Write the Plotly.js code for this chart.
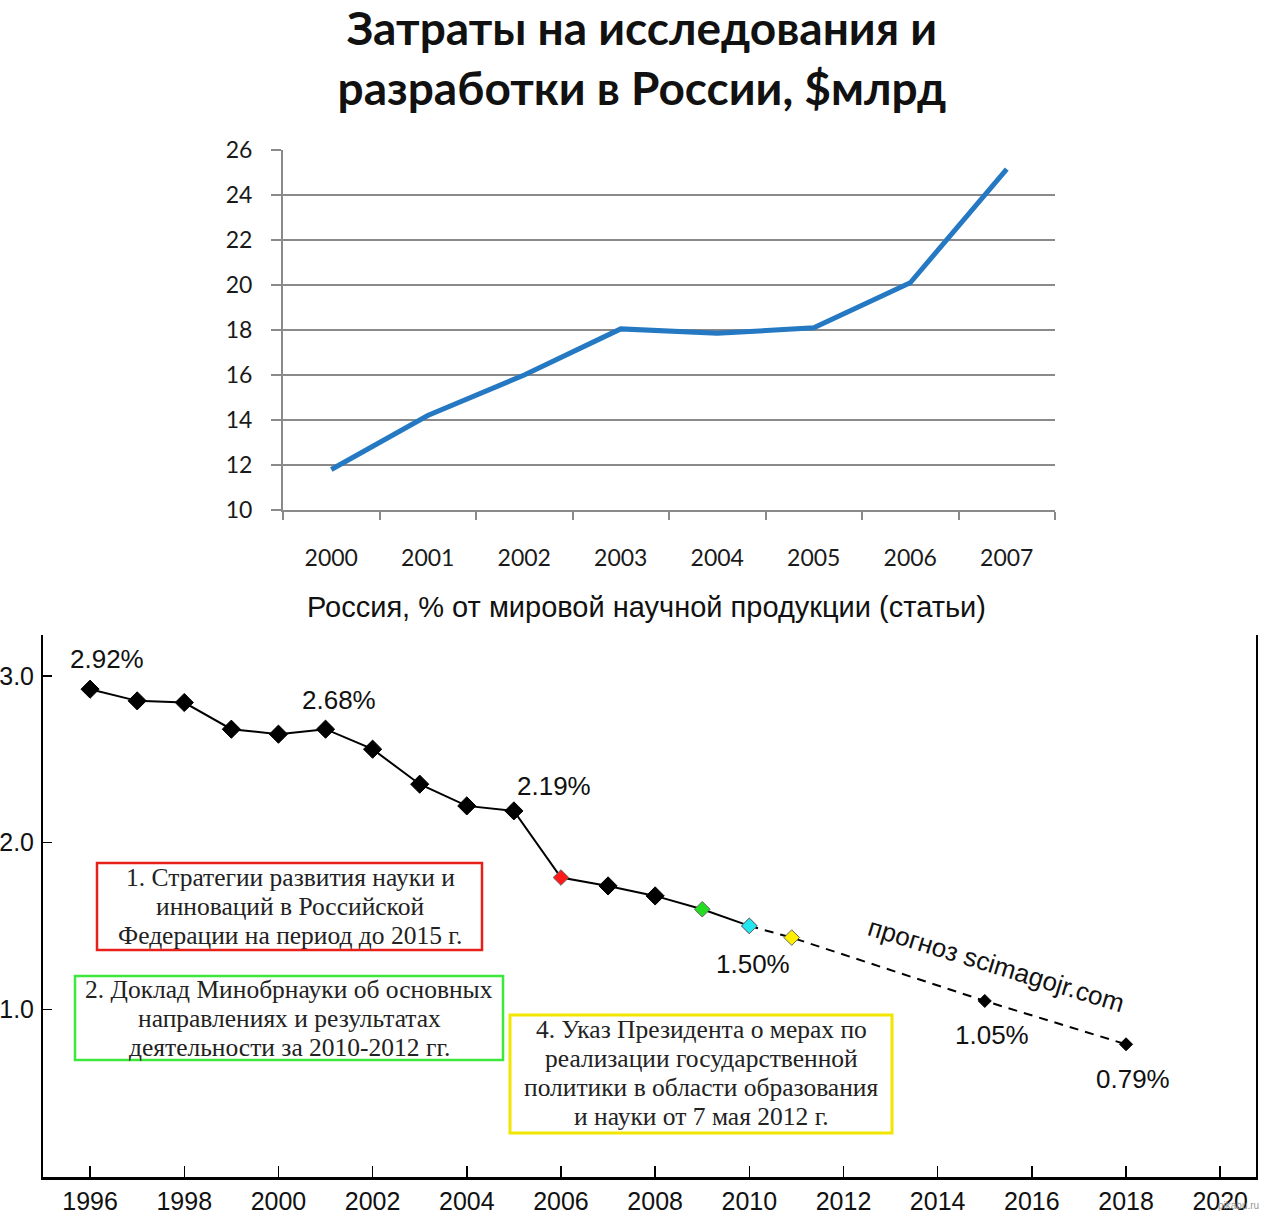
<!DOCTYPE html>
<html>
<head>
<meta charset="utf-8">
<script src="https://cdn.plot.ly/plotly-3.0.1.min.js"></script>
<style>html,body{margin:0;padding:0;background:#fff;}#chart{width:1261px;height:1215px;}</style>
</head>
<body>
<div id="chart"></div>
<script>
// ---------- data: R&D spending ----------
const expYears = ['2000', '2001', '2002', '2003', '2004', '2005', '2006', '2007'];
const expValues = [11.8, 14.2, 16.0, 18.05, 17.85, 18.1, 20.1, 25.15];

// ---------- data: share of world scientific output ----------
const shareYears = [1996, 1997, 1998, 1999, 2000, 2001, 2002, 2003, 2004, 2005, 2006, 2007, 2008, 2009, 2010];
const shareValues = [2.92, 2.85, 2.84, 2.68, 2.65, 2.68, 2.56, 2.35, 2.22, 2.19, 1.79, 1.74, 1.68, 1.60, 1.50];
const forecastYears = [2010, 2010.9, 2015, 2018];
const forecastValues = [1.50, 1.43, 1.05, 0.79];
const labelYears = [1996, 2001, 2005, 2010, 2015, 2018];
const labelValues = [2.92, 2.68, 2.19, 1.50, 1.05, 0.79];
const yTickVals = [1, 2, 3];

const titleText = 'Затраты на исследования и<br>разработки в России, $млрд';
const subTitle = 'Россия, % от мировой научной продукции (статьи)';
const forecastText = 'прогноз scimagojr.com';
const box1Lines = ['1. Стратегии развития науки и', 'инноваций в Российской', 'Федерации на период до 2015 г.'];
const box2Lines = ['2. Доклад Минобрнауки об основных', 'направлениях и результатах', 'деятельности за 2010-2012 гг.'];
const box4Lines = ['4. Указ Президента о мерах по', 'реализации государственной', 'политики в области образования', 'и науки от 7 мая 2012 г.'];

// ---------- styles ----------
const W = 1261, H = 1215;
const px = x => x / W;
const py = y => 1 - y / H;
const markerColorsMain = ['#000','#000','#000','#000','#000','#000','#000','#000','#000','#000','#ff1a1a','#000','#000','#22dd22','#22e6f0'];
const markerSizesMain = [14,14,14,14,14,14,14,14,14,14,12,14,14,12,12];
const markerLineMain = ['#000','#000','#000','#000','#000','#000','#000','#000','#000','#000','#666','#000','#000','#666','#666'];
const markerColorsFc = ['#22e6f0', '#ffee00', '#000', '#000'];
const markerSizesFc = [12, 12, 10, 10];
const markerLineFc = ['#666', '#666', '#000', '#000'];
const labelShift = [[17, 30], [13, 29], [40, 25], [4, -38], [7, -34], [7, -35]];

const gridGray = '#8a8a8a';
const topFont = 'Lato, "Open Sans", sans-serif';
const arial = 'Arial, "Liberation Sans", sans-serif';
const serif = '"Times New Roman", "Liberation Serif", serif';

const traces = [
  {
    x: expYears, y: expValues, type: 'scatter', mode: 'lines',
    xaxis: 'x', yaxis: 'y',
    line: {color: '#2479c2', width: 5},
    showlegend: false
  },
  {
    x: forecastYears, y: forecastValues, type: 'scatter', mode: 'lines',
    xaxis: 'x2', yaxis: 'y2',
    line: {color: '#000', width: 2, dash: '9px,7px'},
    showlegend: false
  },
  {
    x: shareYears, y: shareValues, type: 'scatter', mode: 'lines',
    xaxis: 'x2', yaxis: 'y2',
    line: {color: '#000', width: 2},
    showlegend: false
  },
  {
    x: forecastYears, y: forecastValues, type: 'scatter', mode: 'markers',
    xaxis: 'x2', yaxis: 'y2',
    marker: {symbol: 'diamond', opacity: 1, size: markerSizesFc, color: markerColorsFc, line: {color: markerLineFc, width: 1}},
    showlegend: false
  },
  {
    x: shareYears, y: shareValues, type: 'scatter', mode: 'markers',
    xaxis: 'x2', yaxis: 'y2',
    marker: {symbol: 'diamond', opacity: 1, size: markerSizesMain, color: markerColorsMain, line: {color: markerLineMain, width: 1}},
    showlegend: false
  }
];

const annotations = [
  {
    xref: 'paper', yref: 'paper', x: px(646), y: py(607), text: subTitle, showarrow: false,
    xanchor: 'center', yanchor: 'middle', font: {family: arial, size: 29, color: '#111'}
  },
  {
    xref: 'paper', yref: 'paper', x: px(996), y: py(965), text: forecastText, showarrow: false,
    textangle: 17, xanchor: 'center', yanchor: 'middle', font: {family: arial, size: 26, color: '#111'}
  },
  {
    xref: 'paper', yref: 'paper', x: px(1261), y: py(1205), text: 'pikabu.ru', showarrow: false,
    xanchor: 'right', yanchor: 'middle', font: {family: arial, size: 10, color: '#999'}
  }
];
function addBox(lines, cx, yFirst) {
  lines.forEach((t, i) => {
    annotations.push({
      xref: 'paper', yref: 'paper', x: px(cx), y: py(yFirst + i * 29), text: t, showarrow: false,
      xanchor: 'center', yanchor: 'middle', font: {family: serif, size: 25.5, color: '#222'}
    });
  });
}
addBox(box1Lines, 290, 877);
addBox(box2Lines, 289, 989);
addBox(box4Lines, 701, 1029);

labelYears.forEach((yr, i) => {
  annotations.push({
    xref: 'x2', yref: 'y2', x: yr, y: labelValues[i],
    text: labelValues[i].toFixed(2) + '%', showarrow: false,
    xshift: labelShift[i][0], yshift: labelShift[i][1],
    xanchor: 'center', yanchor: 'middle',
    font: {family: arial, size: 26, color: '#111'}
  });
});

const shapes = [
  {type: 'rect', xref: 'paper', yref: 'paper', x0: px(97), x1: px(482), y0: py(950), y1: py(863), line: {color: '#e8201a', width: 2.5}},
  {type: 'rect', xref: 'paper', yref: 'paper', x0: px(75), x1: px(503), y0: py(1060), y1: py(976), line: {color: '#3be83b', width: 2.5}},
  {type: 'rect', xref: 'paper', yref: 'paper', x0: px(510), x1: px(892), y0: py(1133), y1: py(1015), line: {color: '#f2e600', width: 3}}
];

const layout = {
  width: W, height: H,
  margin: {l: 0, r: 0, t: 0, b: 0, pad: 0},
  paper_bgcolor: '#fff', plot_bgcolor: 'rgba(0,0,0,0)',
  showlegend: false,
  title: {
    text: titleText, x: 0.509, xanchor: 'center', xref: 'paper',
    y: py(45), yanchor: 'middle', yref: 'container',
    font: {family: topFont, size: 46, color: '#111', weight: 'bold'}
  },
  xaxis: {
    domain: [px(283), px(1055)], anchor: 'y',
    type: 'category', range: [-0.5, 7.5], tickson: 'boundaries',
    showgrid: false, zeroline: false,
    showline: true, linecolor: gridGray, linewidth: 2,
    ticks: 'outside', ticklen: 8, tickwidth: 2, tickcolor: gridGray,
    ticklabelstandoff: 26,
    tickfont: {family: topFont, size: 23, color: '#1a1a1a'},
    fixedrange: true
  },
  yaxis: {
    domain: [py(510), py(150)], anchor: 'x',
    range: [10, 26], dtick: 2, tick0: 10,
    showgrid: true, gridcolor: gridGray, gridwidth: 2,
    zeroline: false,
    showline: true, linecolor: gridGray, linewidth: 2,
    ticks: 'outside', ticklen: 10, tickwidth: 2, tickcolor: gridGray,
    ticklabelstandoff: 14,
    tickfont: {family: topFont, size: 23, color: '#1a1a1a'},
    fixedrange: true
  },
  xaxis2: {
    domain: [px(43), px(1256)], anchor: 'y2',
    range: [1995.0, 2020.76], tick0: 1996, dtick: 2,
    showgrid: false, zeroline: false,
    showline: true, linecolor: '#000', linewidth: 3,
    ticks: 'inside', ticklen: 11, tickwidth: 1.5, tickcolor: '#000',
    ticklabelstandoff: 0,
    tickfont: {family: arial, size: 25, color: '#111'},
    fixedrange: true
  },
  yaxis2: {
    domain: [py(1177), py(635)], anchor: 'x2',
    range: [-0.006, 3.245], tickvals: yTickVals, tickformat: '.1f',
    showgrid: false, zeroline: false,
    showline: true, linecolor: '#000', linewidth: 2, mirror: true,
    ticks: 'inside', ticklen: 9, tickwidth: 1.5, tickcolor: '#000',
    ticklabelstandoff: 2,
    tickfont: {family: arial, size: 25, color: '#111'},
    fixedrange: true
  },
  annotations: annotations,
  shapes: shapes
};

Plotly.newPlot('chart', traces, layout, {displayModeBar: false, staticPlot: true});
</script>
</body>
</html>
